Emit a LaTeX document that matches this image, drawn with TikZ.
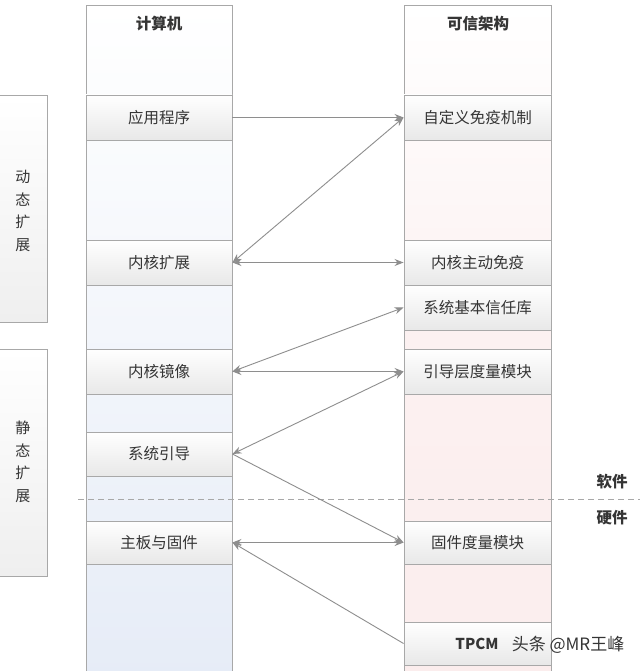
\documentclass[tikz,border=0pt]{standalone}
\usepackage{fontspec}
\setmainfont{Noto Sans CJK SC}
\usetikzlibrary{arrows.meta}
\definecolor{txt}{HTML}{353535}
\definecolor{bord}{HTML}{A8A8A8}
\definecolor{lnc}{HTML}{8E8E8E}
\definecolor{blue1}{HTML}{E6ECF7}
\definecolor{pink1}{HTML}{FBEDED}
\definecolor{subbot}{HTML}{E8E8E8}
\tikzset{
  colbox/.style={draw=bord, line width=0.9pt, anchor=north west, inner sep=0pt},
  subbox/.style={draw=bord, line width=0.9pt, top color=white, bottom color=subbot,
    minimum height=45pt, inner sep=0pt, text=txt, font=\fontsize{15.5}{17}\selectfont},
  lsub/.style={subbox, minimum width=146pt},
  rsub/.style={subbox, minimum width=147pt},
  sidebox/.style={draw=bord, line width=0.9pt, top color=white, bottom color=subbot!70,
    minimum width=48pt, inner sep=0pt, text=txt, align=center,
    font=\fontsize{15}{22.5}\selectfont},
  ttl/.style={text=txt, font=\bfseries\fontsize{15.5}{17}\selectfont},
  conn/.style={draw=lnc, line width=0.9pt, >={Stealth[length=9pt,width=7pt]}},
}
\begin{document}
\begin{tikzpicture}[x=1pt,y=-1pt]
\useasboundingbox (0,0) rectangle (640,671);
\fill[white] (0,0) rectangle (640,671);
% columns
\shade[top color=white, bottom color=blue1] (86,5) rectangle (232,680);
\draw[bord, line width=0.9pt] (86,680) -- (86,5) -- (232,5) -- (232,680);
\shade[top color=white, bottom color=pink1, middle color=pink1!80] (404,5) rectangle (551,680);
\draw[bord, line width=0.9pt] (404,680) -- (404,5) -- (551,5) -- (551,680);
\node[ttl] (tl) at (159,24) {计算机};
\node[ttl] (tr) at (478,24) {可信架构};
% side boxes
\node[sidebox, minimum height=227pt] (dyn) at (23,208.5) {};
\node[text=txt, align=center, font=\fontsize{15}{22.5}\selectfont] (dynt) at (23,211) {动\\态\\扩\\展};
\node[sidebox, minimum height=227pt] (sta) at (23,462.5) {};
\node[text=txt, align=center, font=\fontsize{15}{22.5}\selectfont] (stat) at (23,462) {静\\态\\扩\\展};
% left sub boxes
\node[lsub] (app) at (159,117.5) {应用程序};
\node[lsub] (nkkz) at (159,262.5) {内核扩展};
\node[lsub] (nkjx) at (159,371.5) {内核镜像};
\node[lsub, minimum height=44pt] (xtyd) at (159,454) {系统引导};
\node[lsub, minimum height=43pt] (zbgj) at (159,542.5) {主板与固件};
% right sub boxes
\node[rsub] (zdy) at (477.5,117.5) {自定义免疫机制};
\node[rsub] (nkzd) at (477.5,262.5) {内核主动免疫};
\node[rsub] (xtjb) at (477.5,307.5) {系统基本信任库};
\node[rsub] (ydc) at (477.5,371.5) {引导层度量模块};
\node[rsub, minimum height=43pt] (gjdl) at (477.5,542.5) {固件度量模块};
\node[rsub, minimum height=43pt, font=\bfseries\fontsize{15}{17}\selectfont] (tpcm) at (477.5,643.5) {};
\node[text=txt, font=\bfseries\fontsize{15}{17}\selectfont] (tpcmt) at (477,644) {TPCM};
% dashed line
\coordinate (dl) at (78,499);
\coordinate (dr) at (640,499);
\draw[bord, line width=0.9pt, dash pattern=on 6pt off 4pt] (dl) -- (dr);
\node[ttl] (soft) at (612,482) {软件};
\node[ttl] (hard) at (612,518) {硬件};
% connectors
\draw[conn,->] (app.east) -- (zdy.west);
\draw[conn,<->] (nkkz.east) -- (zdy.west);
\draw[conn,<->] (nkkz.east) -- (nkzd.west);
\draw[conn,<->] (nkjx.east) -- (xtjb.west);
\draw[conn,<->] (nkjx.east) -- (ydc.west);
\draw[conn,<->] (xtyd.east) -- (ydc.west);
\draw[conn,->] (xtyd.east) -- (gjdl.west);
\draw[conn,<->] (zbgj.east) -- (gjdl.west);
\draw[conn,<-] (zbgj.east) -- (tpcm.west);
% watermark
\node[text=txt, font=\fontsize{17}{19}\selectfont] (wm) at (568,645) {头条 @MR王峰};
\end{tikzpicture}
\end{document}
